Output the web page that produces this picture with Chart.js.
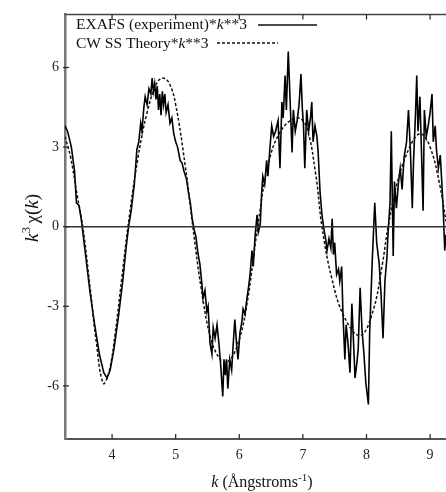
<!DOCTYPE html>
<html>
<head>
<meta charset="utf-8">
<script src="https://cdn.jsdelivr.net/npm/chart.js@4/dist/chart.umd.min.js"></script>
<style>
  html, body { margin: 0; padding: 0; background: #fff; }
</style>
</head>
<body>
<canvas id="exafsChart" width="446" height="492"></canvas>
<script>
// k values (1/Angstrom) and k^3*chi(k)
const expK = [3.26,3.30,3.36,3.41,3.44,3.48,3.52,3.58,3.65,3.72,3.80,3.87,3.92,3.97,4.03,4.10,4.17,4.22,4.26,4.30,
  4.35,4.39,4.42,4.45,4.47,4.50,4.52,4.55,4.58,4.61,4.63,4.65,4.67,4.69,4.71,4.73,4.75,4.77,4.79,4.81,
  4.83,4.85,4.88,4.91,4.94,4.97,5.00,5.03,5.07,5.10,5.13,5.17,5.20,5.23,5.26,5.29,5.32,5.35,5.38,5.41,
  5.43,5.46,5.49,5.51,5.54,5.57,5.59,5.62,5.65,5.68,5.71,5.74,5.76,5.78,5.80,5.82,5.85,5.88,5.90,5.93,
  5.96,5.98,6.01,6.04,6.06,6.09,6.12,6.15,6.17,6.20,6.22,6.25,6.28,6.30,6.33,6.35,6.37,6.40,6.43,6.45,
  6.48,6.51,6.54,6.57,6.61,6.64,6.67,6.69,6.72,6.74,6.77,6.80,6.83,6.85,6.88,6.91,6.94,6.97,6.99,7.01,
  7.03,7.06,7.09,7.12,7.14,7.16,7.19,7.22,7.24,7.27,7.30,7.33,7.36,7.38,7.41,7.44,7.46,7.48,7.50,7.53,
  7.56,7.58,7.61,7.63,7.66,7.68,7.71,7.74,7.77,7.79,7.82,7.85,7.87,7.90,7.93,7.96,7.99,8.03,8.05,8.09,
  8.13,8.16,8.20,8.23,8.26,8.29,8.32,8.34,8.37,8.39,8.42,8.44,8.47,8.50,8.53,8.56,8.59,8.63,8.66,8.69,
  8.72,8.74,8.77,8.79,8.81,8.84,8.86,8.89,8.91,8.94,8.97,9.00,9.03,9.05,9.08,9.10,9.13,9.16,9.19,9.21,
  9.23,9.25];
const expChi = [3.8,3.6,3.0,2.1,0.9,0.8,0.2,-1.0,-2.4,-3.6,-4.8,-5.5,-5.7,-5.4,-4.6,-3.4,-2.0,-0.8,0.0,0.6,
  1.6,2.9,3.2,3.9,3.6,4.5,4.9,4.6,5.2,5.0,5.6,5.1,5.4,4.8,5.3,4.4,5.0,4.2,5.1,4.6,
  5.0,4.3,4.6,3.9,4.1,3.5,3.2,3.0,2.5,2.4,2.1,1.8,1.3,0.9,0.3,-0.1,-0.4,-1.0,-1.4,-2.1,
  -2.7,-2.4,-3.2,-3.0,-4.4,-4.8,-3.8,-4.2,-3.7,-4.4,-5.3,-6.4,-5.0,-5.6,-5.0,-6.1,-5.0,-5.4,-4.6,-3.5,
  -4.5,-5.0,-4.0,-3.6,-3.1,-3.3,-2.7,-2.2,-1.8,-0.9,-1.5,-0.3,0.45,-0.2,0.1,1.2,1.9,1.6,2.5,1.9,
  2.9,3.8,3.4,3.6,4.0,2.2,4.7,4.1,5.7,4.4,6.6,4.7,2.8,4.4,3.6,4.0,4.6,5.75,4.5,3.8,
  2.2,4.4,3.6,4.1,4.7,3.2,3.8,3.4,2.8,1.3,0.45,-0.07,-0.5,-0.9,-0.45,-0.8,0.3,-1.05,-0.6,-1.8,
  -1.6,-2.05,-1.5,-3.3,-5.0,-3.7,-4.4,-5.5,-2.9,-4.0,-5.7,-5.1,-4.6,-2.3,-3.9,-4.8,-5.9,-6.7,-4.0,-1.3,
  0.9,-0.6,-1.4,-2.6,-4.2,-2.05,-1.2,-0.2,0.9,3.6,-1.1,1.7,0.7,1.6,2.2,1.4,2.6,3.2,4.4,2.9,
  0.7,2.5,4.2,5.7,3.6,4.9,3.2,0.6,4.4,3.4,3.8,4.3,5.0,3.2,3.8,2.9,2.2,2.7,1.4,0.45,
  -0.9,-0.3];

const theoryK = [3.26,3.35,3.45,3.54,3.65,3.75,3.86,3.95,4.05,4.15,4.25,4.40,4.55,4.70,4.80,4.90,5.00,5.15,5.27,
  5.40,5.55,5.70,5.81,5.95,6.10,6.29,6.45,6.65,6.90,7.05,7.20,7.30,7.45,7.65,7.90,8.10,8.25,8.34,8.50,
  8.70,8.85,9.00,9.15,9.25];
const theoryChi = [3.4,2.6,1.2,0.0,-2.2,-4.3,-5.9,-5.5,-4.0,-2.0,0.0,2.5,4.3,5.4,5.6,5.4,4.6,2.3,0.0,
  -2.3,-4.2,-5.0,-5.1,-4.6,-3.2,0.0,2.3,3.6,4.1,3.8,2.0,0.0,-1.9,-3.4,-4.1,-3.2,-1.4,0.0,1.8,
  3.1,3.5,3.0,1.6,0.2];

const xTicks = [4, 5, 6, 7, 8, 9];
const yTicks = [-6, -3, 0, 3, 6];

const SERIF = "'Liberation Serif', 'DejaVu Serif', serif";

function toPoints(xs, ys) {
  return xs.map((x, i) => ({ x: x, y: ys[i] }));
}

// draw a run of text pieces, some of them italic / raised
function drawRich(ctx, parts, x, y, size) {
  let cx = x;
  parts.forEach((p) => {
    const s = p.sup ? size * 0.7 : size;
    ctx.font = `${p.italic ? "italic " : ""}${s}px ${SERIF}`;
    ctx.fillText(p.t, cx, p.sup ? y - size * 0.4 : y);
    cx += ctx.measureText(p.t).width;
  });
  return cx;
}

function richWidth(ctx, parts, size) {
  let w = 0;
  parts.forEach((p) => {
    const s = p.sup ? size * 0.7 : size;
    ctx.font = `${p.italic ? "italic " : ""}${s}px ${SERIF}`;
    w += ctx.measureText(p.t).width;
  });
  return w;
}

// ==========================
// Frame, inward ticks, zero line, legend, axis titles
// ==========================
const decorPlugin = {
  id: "decor",
  afterDatasetsDraw(chart) {
    const { ctx, chartArea } = chart;
    const xs = chart.scales.x;
    const ys = chart.scales.y;
    ctx.save();

    // zero line
    ctx.strokeStyle = "#333";
    ctx.lineWidth = 1.5;
    ctx.beginPath();
    ctx.moveTo(chartArea.left, ys.getPixelForValue(0));
    ctx.lineTo(chartArea.right, ys.getPixelForValue(0));
    ctx.stroke();

    // top border
    ctx.strokeStyle = "#444";
    ctx.lineWidth = 1.5;
    ctx.beginPath();
    ctx.moveTo(chartArea.left, chartArea.top);
    ctx.lineTo(chartArea.right, chartArea.top);
    ctx.stroke();

    // ticks
    ctx.lineWidth = 1.2;
    ctx.strokeStyle = "#222";
    xTicks.forEach((v) => {
      const px = xs.getPixelForValue(v);
      ctx.beginPath();
      ctx.moveTo(px, chartArea.bottom);
      ctx.lineTo(px, chartArea.bottom - 5);
      ctx.moveTo(px, chartArea.top);
      ctx.lineTo(px, chartArea.top + 5);
      ctx.stroke();
    });
    yTicks.forEach((v) => {
      const py = ys.getPixelForValue(v);
      ctx.beginPath();
      ctx.moveTo(chartArea.left - 2, py);
      ctx.lineTo(chartArea.left + 4, py);
      ctx.stroke();
    });

    // legend
    ctx.fillStyle = "#111";
    ctx.textBaseline = "alphabetic";
    ctx.textAlign = "left";
    drawRich(ctx, [{ t: "EXAFS (experiment)*" }, { t: "k", italic: true }, { t: "**3" }], 76, 29, 15.5);
    drawRich(ctx, [{ t: "CW SS Theory*" }, { t: "k", italic: true }, { t: "**3" }], 76, 48, 15.5);
    ctx.strokeStyle = "#111";
    ctx.lineWidth = 1.3;
    ctx.beginPath();
    ctx.moveTo(258, 25);
    ctx.lineTo(317, 25);
    ctx.stroke();
    ctx.setLineDash([3, 2]);
    ctx.beginPath();
    ctx.moveTo(217, 43);
    ctx.lineTo(278, 43);
    ctx.stroke();
    ctx.setLineDash([]);

    // x title
    const xt = [{ t: "k", italic: true }, { t: " (\u00C5ngstroms" }, { t: "-1", sup: true }, { t: ")" }];
    const xw = richWidth(ctx, xt, 16);
    drawRich(ctx, xt, 262 - xw / 2, 487, 16);

    // y title (rotated)
    const yt = [{ t: "k", italic: true }, { t: "3 ", sup: true }, { t: "\u03C7(" }, { t: "k", italic: true }, { t: ")" }];
    const yw = richWidth(ctx, yt, 19);
    ctx.translate(38, 218);
    ctx.rotate(-Math.PI / 2);
    drawRich(ctx, yt, -yw / 2, 0, 19);

    ctx.restore();
  },
};

const ctx = document.getElementById("exafsChart").getContext("2d");

const exafsChart = new Chart(ctx, {
  type: "line",
  data: {
    datasets: [
      {
        label: "CW SS Theory*k**3",
        data: toPoints(theoryK, theoryChi),
        borderColor: "#111",
        borderWidth: 1.5,
        borderDash: [3, 2],
        tension: 0.4,
        pointRadius: 0,
        fill: false,
      },
      {
        label: "EXAFS (experiment)*k**3",
        data: toPoints(expK, expChi),
        borderColor: "#000",
        borderWidth: 1.6,
        tension: 0,
        pointRadius: 0,
        fill: false,
      },
    ],
  },
  options: {
    responsive: false,
    animation: false,
    layout: { padding: { top: 9, right: 0, left: 0, bottom: 0 } },
    plugins: {
      legend: { display: false },
      tooltip: { enabled: false },
    },
    scales: {
      x: {
        type: "linear",
        min: 3.26,
        max: 9.25,
        afterFit: (scale) => { scale.height = 53; },
        afterBuildTicks: (scale) => { scale.ticks = xTicks.map((v) => ({ value: v })); },
        ticks: {
          padding: 8,
          color: "#222",
          font: { family: SERIF, size: 14 },
          maxRotation: 0,
        },
        grid: { display: true, drawOnChartArea: false, drawTicks: false },
        border: { display: true, color: "#555", width: 2 },
      },
      y: {
        type: "linear",
        min: -8,
        max: 8,
        afterFit: (scale) => { scale.width = 65; },
        afterBuildTicks: (scale) => { scale.ticks = yTicks.map((v) => ({ value: v })); },
        ticks: {
          padding: 6,
          color: "#222",
          font: { family: SERIF, size: 14 },
        },
        grid: { display: true, drawOnChartArea: false, drawTicks: false },
        border: { display: true, color: "#777", width: 2.5 },
      },
    },
  },
  plugins: [decorPlugin],
});
</script>
</body>
</html>
